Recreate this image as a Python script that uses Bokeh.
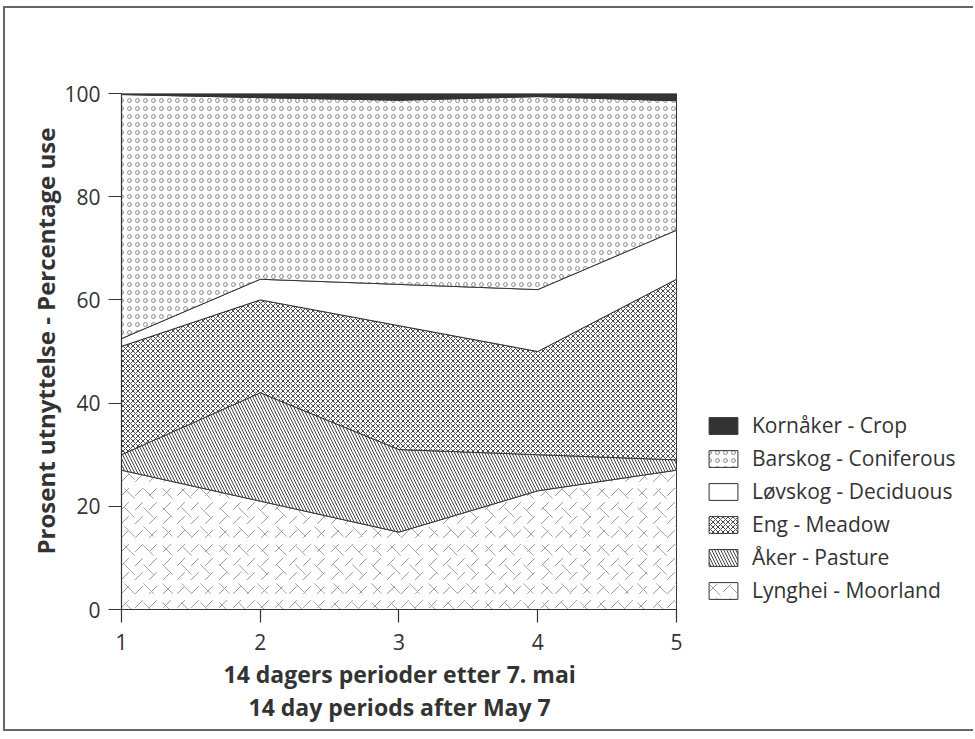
import numpy as np
from bokeh.plotting import figure
from bokeh.models import Legend, LegendItem, Title, FixedTicker, Range1d
from bokeh.embed import file_html
from bokeh.resources import INLINE

# ---- data ----
periods = [1, 2, 3, 4, 5]
y_ticks = [0, 20, 40, 60, 80, 100]
lynghei = [27, 21, 15, 23, 27]            # Lynghei - Moorland
aker = [3, 21, 16, 7, 2]                  # Åker - Pasture
eng = [21, 18, 24, 20, 35]                # Eng - Meadow
lovskog = [1.5, 4, 8, 12, 9.5]            # Løvskog - Deciduous
barskog = [47.3, 35.2, 35.7, 37.4, 25.1]  # Barskog - Coniferous
kornaker = [0.2, 0.8, 1.3, 0.6, 1.4]      # Kornåker - Crop
names = ["Lynghei - Moorland", "Åker - Pasture", "Eng - Meadow",
         "Løvskog - Deciduous", "Barskog - Coniferous", "Kornåker - Crop"]
x_title_1 = "14 dagers perioder etter 7. mai"
x_title_2 = "14 day periods after May 7"
y_title = "Prosent utnyttelse - Percentage use"

FONT = "Open Sans"
INK = "#333333"

# frame spans beyond period 5 to host the legend; axis is bounded to 1..5
p = figure(width=970, height=725, output_backend="svg", toolbar_location=None,
           x_range=Range1d(1, 7.083), y_range=Range1d(0, 100),
           min_border_left=116, min_border_right=10, min_border_top=85,
           min_border_bottom=124)
p.styles = {"border-left": "2px solid #666666", "border-top": "2px solid #666666",
            "border-bottom": "2px solid #666666", "margin-left": "3px",
            "margin-top": "6px"}
p.outline_line_color = None
p.xgrid.visible = False
p.ygrid.visible = False
p.background_fill_color = "white"

styles = [
    dict(fill_color="white", hatch_pattern="right_diagonal_dash", hatch_color="#999999",
         hatch_scale=14, hatch_weight=1),
    dict(fill_color="white", hatch_pattern="left_diagonal_line", hatch_color="#444444",
         hatch_scale=6, hatch_weight=1),
    dict(fill_color="white", hatch_pattern="diagonal_cross", hatch_color="#4a4a4a",
         hatch_scale=5, hatch_weight=1),
    dict(fill_color="white"),
    dict(fill_color="white", hatch_pattern="ring", hatch_color="#8c8c8c",
         hatch_scale=8, hatch_weight=1),
    dict(fill_color="#333333"),
]

layers = [lynghei, aker, eng, lovskog, barskog, kornaker]
base = np.zeros(len(periods))
groups = []
for vals, st in zip(layers, styles):
    top = base + np.array(vals, dtype=float)
    xs = list(periods) + list(periods[::-1])
    ys = list(top) + list(base[::-1])
    r = p.patch(xs, ys, line_color=INK, line_width=1, **st)
    g = [r]
    if st.get("hatch_pattern") == "right_diagonal_dash":
        r2 = p.patch(xs, ys, fill_alpha=0, line_alpha=0,
                     hatch_pattern="left_diagonal_dash", hatch_color="#a5a5a5",
                     hatch_scale=19, hatch_weight=1)
        g.append(r2)
    groups.append(g)
    base = top

for ax in (p.xaxis[0], p.yaxis[0]):
    ax.axis_line_color = INK
    ax.axis_line_width = 1.2
    ax.major_tick_line_color = INK
    ax.major_tick_line_width = 1.2
    ax.major_tick_out = 13
    ax.major_tick_in = 0
    ax.minor_tick_out = 0
    ax.minor_tick_in = 0
    ax.major_label_text_font = FONT
    ax.major_label_text_font_size = "21px"
    ax.major_label_text_color = INK
p.xaxis.bounds = (periods[0], periods[-1])
p.xaxis.ticker = FixedTicker(ticks=periods)
p.yaxis.ticker = FixedTicker(ticks=y_ticks)
p.xaxis.major_label_standoff = 11
p.yaxis.major_label_standoff = 8

def mk_title(text, offset, standoff, size="23px"):
    return Title(text=text, align="left", offset=offset, text_font=FONT,
                 text_font_size=size, text_font_style="bold", text_color=INK,
                 standoff=standoff, padding=0)

p.add_layout(mk_title(x_title_1, 102, 6), "below")
p.add_layout(mk_title(x_title_2, 127, -7), "below")
p.add_layout(mk_title(y_title, 55, 0, "24px"), "left")

items = [LegendItem(label=n, renderers=g) for n, g in zip(names, groups)][::-1]
legend = Legend(items=items, location=(584, 5), glyph_width=36, glyph_height=21,
                label_standoff=11, spacing=5, padding=0, margin=0,
                border_line_alpha=0, background_fill_alpha=0,
                label_text_font=FONT, label_text_font_size="21px",
                label_text_color=INK, label_height=21)
p.add_layout(legend)

open("out.html", "w").write(file_html(p, INLINE))
